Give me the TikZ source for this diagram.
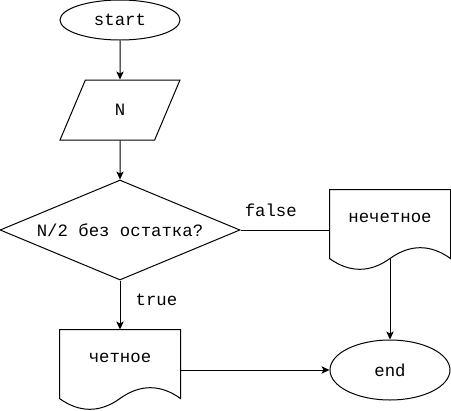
\documentclass[tikz,border=0pt]{standalone}
\usepackage{fontspec}
\setmainfont{Liberation Mono}
\usetikzlibrary{shapes.geometric,arrows.meta}

\tikzset{
	every node/.style={font=\fontsize{13}{15}\selectfont},
	term/.style={ellipse, draw, inner sep=0pt, minimum width=90pt, minimum height=30pt},
	io/.style={trapezium, draw, trapezium left angle=71.57, trapezium right angle=108.43,
		trapezium stretches=true, inner sep=0pt, minimum width=90pt, minimum height=45pt},
	decision/.style={diamond, draw, shape aspect=2.4, inner sep=0pt, minimum width=180pt, minimum height=75pt},
	doc/.style={rectangle, inner sep=0pt, minimum width=90pt, minimum height=42pt},
	flow/.style={-{Stealth[length=6pt,width=5.5pt,inset=1.5pt]}},
}

\newcommand{\docoutline}[1]{%
	\draw (#1.north west) -- (#1.north east) -- ([yshift=-9pt]#1.south east)
		.. controls ([xshift=-15pt,yshift=1.8pt]#1.south east) and ([xshift=15pt,yshift=1.8pt]#1.south) .. ([yshift=-9pt]#1.south)
		.. controls ([xshift=-15pt,yshift=-19.8pt]#1.south) and ([xshift=15pt,yshift=-19.8pt]#1.south west) .. ([yshift=-9pt]#1.south west)
		-- cycle;}

\begin{document}
\begin{tikzpicture}[x=0.75pt, y=-0.75pt, line width=0.75pt]
	\useasboundingbox (0,0) rectangle (451,411);

	\node[term] (start) at (120,20) {start};
	\node[io] (input) at (120,110) {N};
	\node[decision] (check) at (120,230) {N/2 без остатка?};
	\node[doc] (odd) at (390,218) {нечетное};
	\node[doc] (even) at (120,358) {четное};
	\node[term, minimum height=45pt] (end) at (390,370) {end};

	\docoutline{odd}
	\docoutline{even}

	\draw[flow] (start) -- (input);
	\draw[flow] (input) -- (check);
	\draw[flow] (check.south) -- node[pos=0.4, right, xshift=8pt] {true} (even.north);
	\draw (check.east) -- node[pos=0.34, above, yshift=6pt] {false} (odd.west |- check.east);
	\draw[flow] ([yshift=-9pt]odd.south) -- (end.north);
	\draw[flow] ([yshift=-9pt]even.east) -- (end.west);
\end{tikzpicture}
\end{document}
